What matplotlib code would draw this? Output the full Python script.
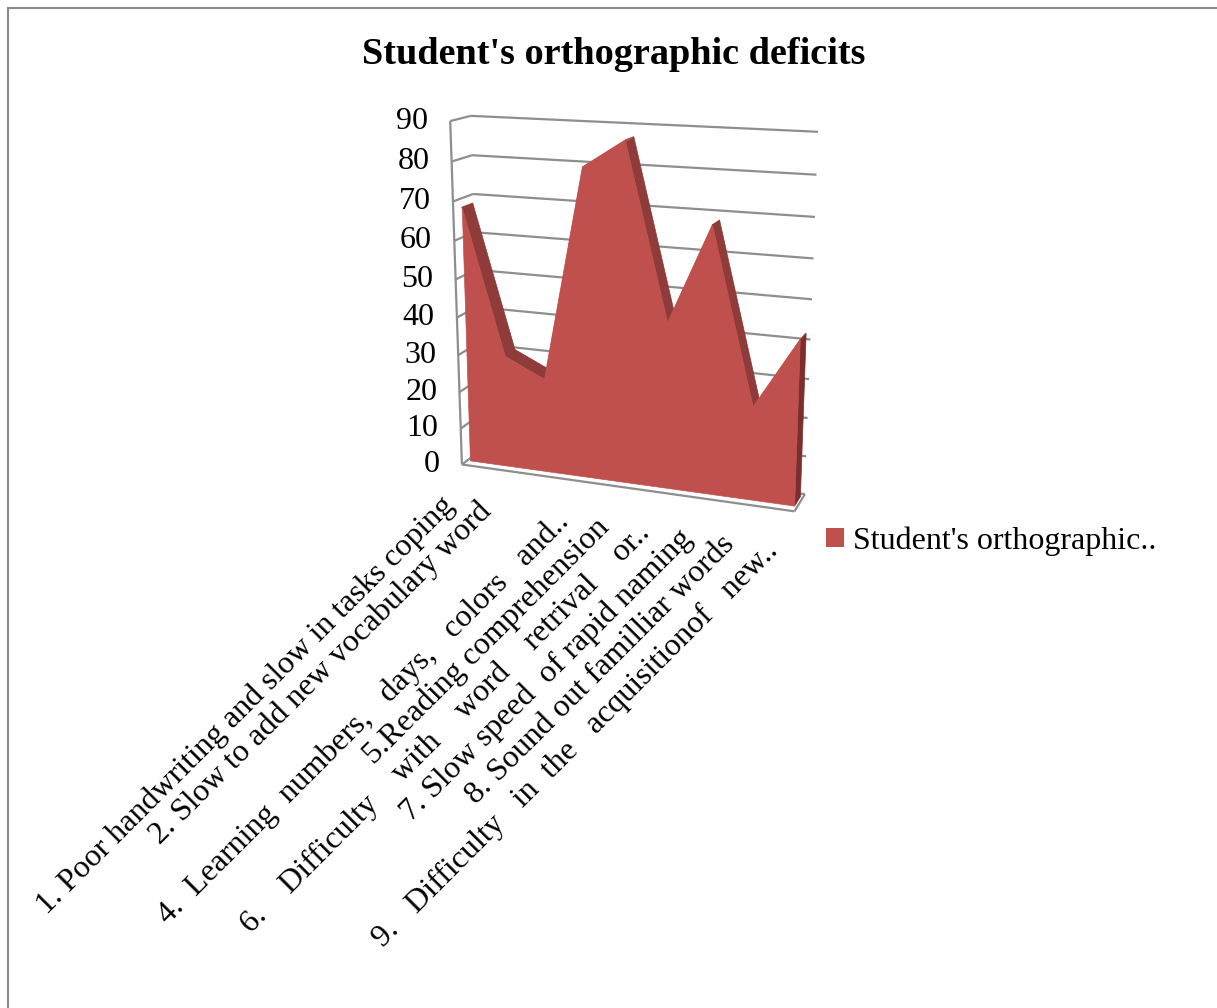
import numpy as np
import matplotlib.pyplot as plt
from matplotlib.patches import Patch, Rectangle
from mpl_toolkits.mplot3d import proj3d
from mpl_toolkits.mplot3d.art3d import Poly3DCollection, Line3DCollection

plt.rcParams['font.family'] = ['Liberation Serif', 'DejaVu Serif']

categories = [
    "1. Poor handwriting and slow in tasks coping",
    "2. Slow to add new vocabulary word",
    "",
    "4.  Learning  numbers,   days,   colors   and..",
    "5.Reading comprehension",
    "6.    Difficulty    with    word    retrival    or..",
    "7. Slow speed  of rapid naming",
    "8. Sound out familliar words",
    "9.   Difficulty   in  the   acquisitionof   new..",
]
values = [68, 30, 25, 80, 87, 43, 68, 24, 42]
z_ticks = list(range(0, 100, 10))
series_name = "Student's orthographic.."
title = "Student's orthographic deficits"

area_color = '#C0504D'
strip_dark = '#8E3B39'
cap_dark = '#7A2F2D'
grid_color = '#8E8E8E'

fig = plt.figure(figsize=(12.17, 10.08), dpi=100)

# outer chart border
fig.add_artist(Rectangle((8 / 1217, -0.05), 1.2, 1.05 - 8 / 1008,
                         transform=fig.transFigure, fill=False,
                         edgecolor='#8A8A8A', lw=1.5))

fig.text(0.5045, 1 - 55 / 1008, title, ha='center', va='center',
         fontsize=27.5, fontweight='bold')

ax = fig.add_axes([0.296, 0.439, 0.43, 0.496], projection='3d',
                  proj_type='persp', focal_length=0.5)
ax.set_axis_off()
ax.computed_zorder = False

n = len(values)
x = np.arange(n)
x0, x1 = -0.06, n - 1 + 0.08
y_front, y_back = 0.0, 1.0
ya0, ya1 = 0.3, 0.85
ax.set_xlim(x0, x1)
ax.set_ylim(y_front, y_back)
ax.set_zlim(0, 90)
ax.set_box_aspect((4.75, 0.6, 4.8))
ax.view_init(elev=15, azim=-70)

# walls: back gridlines, side wall, floor edges
segs = []
for z in z_ticks:
    segs.append([(x0, y_back, z), (x1, y_back, z)])
    segs.append([(x0, y_front, z), (x0, y_back, z)])
segs.append([(x0, y_front, 0), (x0, y_front, 90)])
segs.append([(x0, y_front, 0), (x1, y_front, 0)])
segs.append([(x1, y_front, 0), (x1, y_back, 0)])
ax.add_collection3d(Line3DCollection(segs, colors=grid_color, linewidths=1.6, zorder=1))

# area body: top strips, right end cap, then the front face
strips = []
strip_cols = []
for i in range(n - 1):
    strips.append([(x[i], ya0, values[i]), (x[i + 1], ya0, values[i + 1]),
                   (x[i + 1], ya1, values[i + 1]), (x[i], ya1, values[i])])
    strip_cols.append(strip_dark if values[i + 1] < values[i] else area_color)
ax.add_collection3d(Poly3DCollection(strips, facecolors=strip_cols,
                                     edgecolors=strip_cols, linewidths=0.5, zorder=2))
cap = [[(x[-1], ya0, 0), (x[-1], ya0, values[-1]),
        (x[-1], ya1, values[-1]), (x[-1], ya1, 0)]]
ax.add_collection3d(Poly3DCollection(cap, facecolors=cap_dark, edgecolors=cap_dark,
                                     linewidths=0.5, zorder=2))
front = [(x[0], ya0, 0)] + [(xi, ya0, v) for xi, v in zip(x, values)] + [(x[-1], ya0, 0)]
ax.add_collection3d(Poly3DCollection([front], facecolors=area_color,
                                     edgecolors=area_color, linewidths=0.5, zorder=3))

M = ax.get_proj()


def to2d(px, py, pz):
    X, Y, _ = proj3d.proj_transform(px, py, pz, M)
    return float(X), float(Y)


for z in z_ticks:
    ax.annotate(str(z), xy=to2d(x0, y_front, z), xycoords='data',
                xytext=(-16, 0), textcoords='offset points',
                ha='right', va='center', fontsize=23, annotation_clip=False)

for xi, lab in zip(x, categories):
    ax.annotate(lab, xy=to2d(xi, ya0, 0), xycoords='data',
                xytext=(-22, -22), textcoords='offset points',
                rotation=45, rotation_mode='anchor', ha='right', va='top',
                fontsize=23, annotation_clip=False)

fig.legend(handles=[Patch(facecolor=area_color)], labels=[series_name],
           loc='center left', bbox_to_anchor=(826 / 1217, 1 - 541 / 1008),
           frameon=False, fontsize=23, handlelength=0.55, handleheight=0.55,
           handletextpad=0.3, borderpad=0, borderaxespad=0)

fig.savefig('out.png', dpi=100)
